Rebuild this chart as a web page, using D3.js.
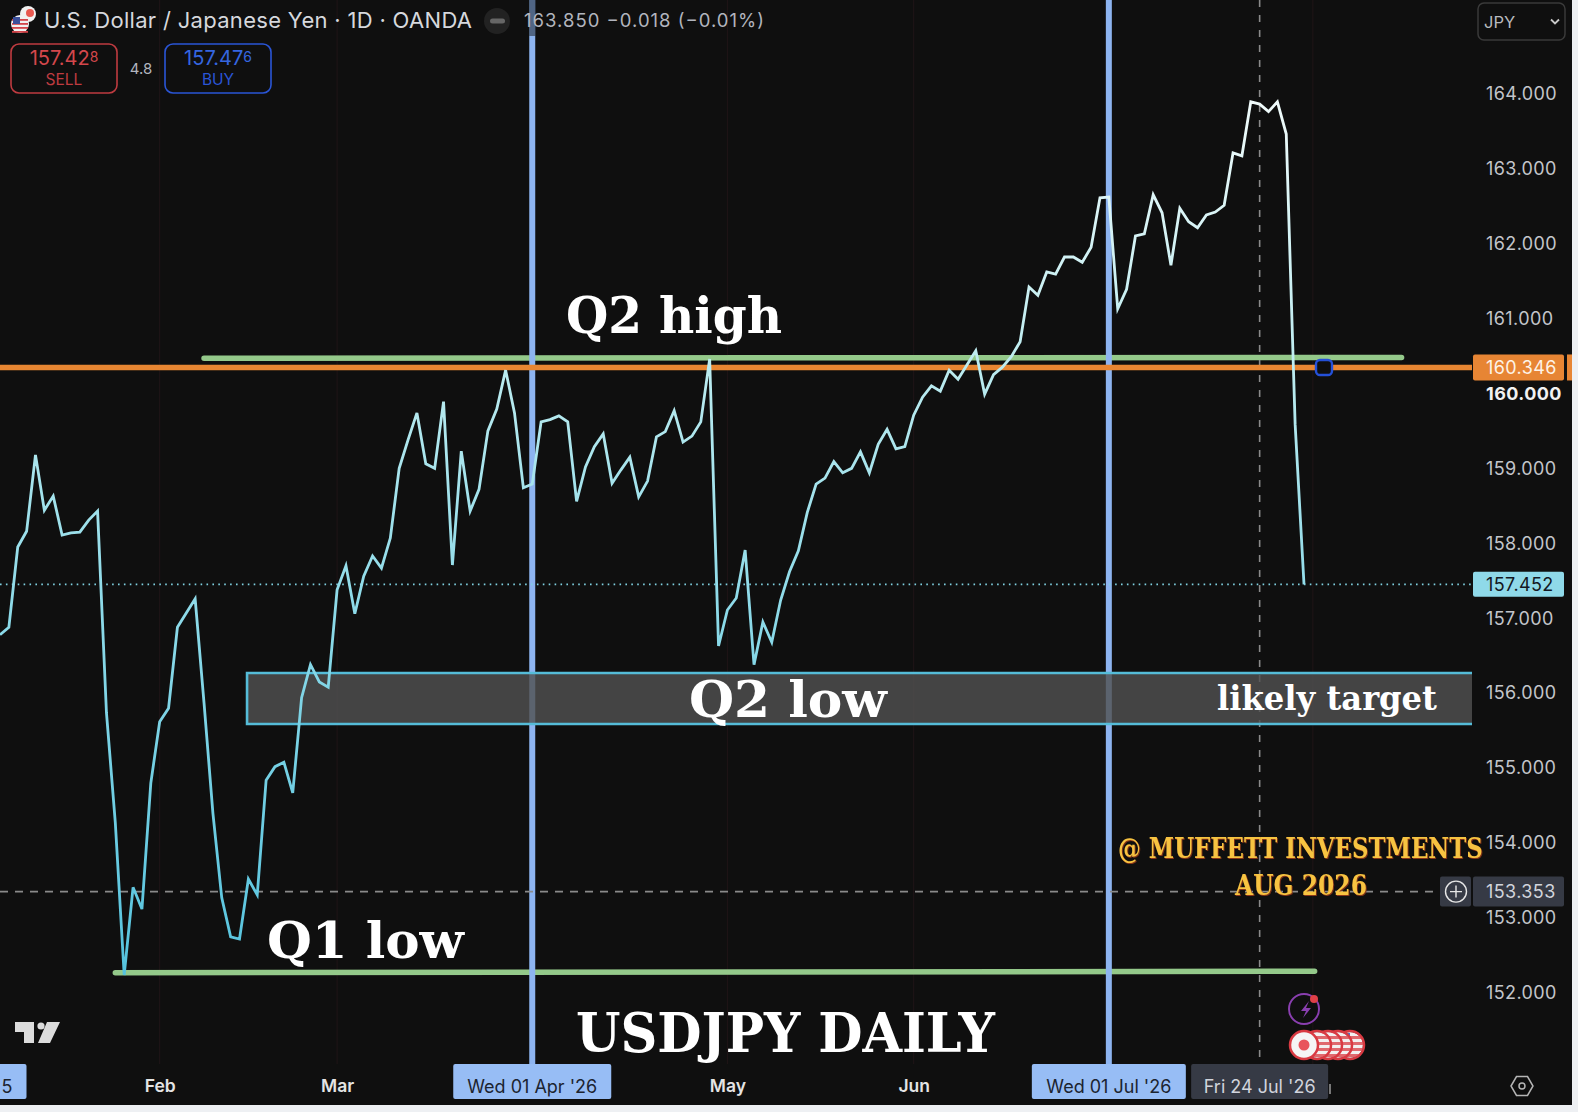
<!DOCTYPE html>
<html><head><meta charset="utf-8">
<script src="https://cdn.jsdelivr.net/npm/d3@7"></script>
<style>
html,body{margin:0;padding:0;background:#eef0f3;overflow:hidden}
svg{display:block}
text{font-family:Inter,"Noto Sans",sans-serif}
.serif{font-family:"DejaVu Serif",serif;font-weight:700}
</style></head><body>
<svg id="c" width="1578" height="1112"></svg>
<script>
// ---- data ----
const closes=[156.78,156.88,157.95,158.16,159.18,158.44,158.63,158.11,158.14,158.15,158.31,158.43,155.74,154.27,152.24,153.41,153.12,154.80,155.62,155.80,
156.88,157.07,157.26,155.87,154.40,153.27,152.75,152.72,153.52,153.31,154.84,155.02,155.08,154.67,155.94,156.38,156.15,156.08,157.38,157.70,
157.06,157.56,157.83,157.67,158.07,159.00,159.38,159.74,159.06,159.00,159.89,157.71,159.23,158.43,158.72,159.50,159.79,160.31,159.74,158.74,
158.79,159.62,159.65,159.70,159.62,158.56,159.02,159.29,159.46,158.80,158.98,159.15,158.62,158.83,159.42,159.49,159.77,159.35,159.43,159.62,
160.46,156.63,157.11,157.27,157.91,156.38,156.95,156.68,157.24,157.62,157.90,158.41,158.79,158.87,159.09,158.94,159.00,159.22,158.94,159.32,
159.52,159.26,159.29,159.71,159.95,160.10,160.03,160.31,160.19,160.38,160.57,159.99,160.25,160.35,160.49,160.69,161.42,161.31,161.62,161.59,
161.82,161.82,161.75,161.95,162.61,162.62,161.13,161.39,162.10,162.13,162.65,162.41,161.71,162.47,162.29,162.21,162.38,162.42,162.51,163.21,
163.17,163.89,163.86,163.76,163.89,163.46,159.59,157.452];
const priceTicks=[152,153,154,155,156,157,158,159,160,161,162,163,164];
const monthBars=[18,38,82,103];
const monthLabels=["Feb","Mar","May","Jun"];
const gridBars=[18,38,60,82,103,125,148];
const quarterBars=[60,125];
const quarterLabels=["Wed 01 Apr '26","Wed 01 Jul '26"];
const crossBar=142, crossLabel="Fri 24 Jul '26";
const crossPrice=153.353, lastPrice=157.452, levelPrice=160.346;
const q2High=[[23,160.47],[158,160.48]];
const q1Low=[[13,152.27],[148.2,152.29]];
const zone={bar0:27.85,bar1:166,top:156.27,bottom:155.59};

// ---- scales ----
const W=1578,H=1112,plotR=1472;
const x=d3.scaleLinear().domain([0,147]).range([0,1304]);
const y=d3.scaleLinear().domain([152,164]).range([993,93.6]);
const svg=d3.select("#c");
const defs=svg.append("defs");
const g=defs.append("linearGradient").attr("id","lg").attr("gradientUnits","userSpaceOnUse")
 .attr("x1",0).attr("x2",0).attr("y1",100).attr("y2",975);
[[0,"#f0fbfb"],[.3,"#bdecf0"],[.57,"#8fdbe9"],[1,"#55c3de"]].forEach(s=>g.append("stop").attr("offset",s[0]).attr("stop-color",s[1]));
defs.append("clipPath").attr("id","frame").append("rect").attr("width",1572).attr("height",1105);

const root=svg.append("g").attr("clip-path","url(#frame)");
root.append("rect").attr("width",W).attr("height",H).attr("fill","#0f0f0f");

// month grid
root.append("g").selectAll("line").data(gridBars).join("line")
 .attr("x1",d=>x(d)).attr("x2",d=>x(d)).attr("y1",0).attr("y2",1064)
 .attr("stroke","#201517").attr("stroke-width",1);

// green levels
const lvl=d3.line().x(d=>x(d[0])).y(d=>y(d[1]));
[q2High,q1Low].forEach(a=>root.append("path").attr("d",lvl(a)).attr("stroke","#94c98a").attr("stroke-width",5.5).attr("stroke-linecap","round").attr("fill","none"));

// quarter lines
root.append("g").selectAll("line").data(quarterBars).join("line")
 .attr("x1",d=>x(d)).attr("x2",d=>x(d)).attr("y1",0).attr("y2",1064)
 .attr("stroke","#8db4f0").attr("stroke-width",6);
root.append("rect").attr("x",x(60)-3).attr("width",6).attr("y",0).attr("height",36).attr("fill","#0f0f0f").attr("opacity",.48);

// crosshair + last price
root.append("line").attr("x1",x(crossBar)).attr("x2",x(crossBar)).attr("y1",0).attr("y2",1064)
 .attr("stroke","#8a8a8a").attr("stroke-width",1.6).attr("stroke-dasharray","7 8");
root.append("line").attr("x1",0).attr("x2",1440).attr("y1",y(crossPrice)).attr("y2",y(crossPrice))
 .attr("stroke","#8a8a8a").attr("stroke-width",1.6).attr("stroke-dasharray","8 7");
root.append("line").attr("x1",0).attr("x2",plotR).attr("y1",y(lastPrice)).attr("y2",y(lastPrice))
 .attr("stroke","#7fd0e0").attr("stroke-width",1.6).attr("stroke-dasharray","1.6 4.3");

// zone
root.append("rect").attr("x",x(zone.bar0)).attr("width",plotR-x(zone.bar0))
 .attr("y",y(zone.top)).attr("height",y(zone.bottom)-y(zone.top)).attr("fill","#505050").attr("opacity",.82);
root.append("path").attr("fill","none").attr("stroke","#55bcd8").attr("stroke-width",2.6)
 .attr("d",`M${plotR},${y(zone.top)}H${x(zone.bar0)}V${y(zone.bottom)}H${plotR}`);

// orange level
root.append("line").attr("x1",0).attr("x2",plotR).attr("y1",y(levelPrice)).attr("y2",y(levelPrice))
 .attr("stroke","#e88632").attr("stroke-width",5.5);

// price line
root.append("path").datum(closes).attr("fill","none").attr("stroke","url(#lg)").attr("stroke-width",2.8)
 .attr("stroke-linejoin","miter").attr("stroke-miterlimit",4)
 .attr("d",d3.line().x((d,i)=>x(i)).y(d=>y(d)));

// handle
root.append("rect").attr("x",1316).attr("y",y(levelPrice)-7.5).attr("width",16).attr("height",15).attr("rx",4)
 .attr("fill","#0f0f0f").attr("stroke","#2450d8").attr("stroke-width",2.4);

// annotations: fitted to a measured width by a horizontal scale, so the text box stays true
function ann(t,xa,xb,base,size,fill){
 const n=root.append("text").attr("class","serif").attr("font-size",size).attr("fill",fill||"#fff").text(t);
 const len=n.node().getComputedTextLength();
 n.attr("transform",`translate(${xa},${base}) scale(${(xb-xa)/len},1)`);
 return n;
}
ann("Q2 high",566,782,333,51);
ann("Q2 low",689,887,717,51);
ann("Q1 low",267,464,958,51);
ann("USDJPY DAILY",576,995,1052,55);
ann("likely target",1217,1437,710,34);
ann("@ MUFFETT INVESTMENTS",1118,1483,858,27,"#f7c341").style("filter","drop-shadow(1.6px 1.6px 0 #8a3618)");
ann("AUG 2026",1235,1367,895,27,"#f7c341").style("filter","drop-shadow(1.6px 1.6px 0 #8a3618)");

// right axis
const ya=root.append("g").attr("transform","translate(1486,0)")
 .call(d3.axisRight(y).tickValues(priceTicks).tickFormat(d3.format(".3f")).tickSize(0).tickPadding(0));
ya.select(".domain").remove();
ya.selectAll("text").style("font-family","Inter,sans-serif").attr("font-size",18).attr("letter-spacing",.4)
 .attr("font-weight",d=>d===160?700:400).attr("fill",d=>d===160?"#f2f2f2":"#c3c5ca");

// price tags
function tag(px,py,w,h,fill,label,col){
 root.append("rect").attr("x",px).attr("y",py).attr("width",w).attr("height",h).attr("rx",2).attr("fill",fill);
 root.append("text").attr("x",1486).attr("y",py+h/2+6.5).attr("font-size",18).attr("letter-spacing",.4).attr("fill",col).text(label);
}
tag(1473,y(levelPrice)-13,91,26,"#e78534",d3.format(".3f")(levelPrice),"#fdf3e8");
root.append("rect").attr("x",1567).attr("y",y(levelPrice)-13).attr("width",5).attr("height",26).attr("fill","#e78534");
tag(1473,y(lastPrice)-12.5,91,25,"#8fd9e9",d3.format(".3f")(lastPrice),"#131722");
tag(1473,y(crossPrice)-15,91,30,"#363a45",d3.format(".3f")(crossPrice),"#d1d4dc");
root.append("rect").attr("x",1440).attr("y",y(crossPrice)-15).attr("width",31).attr("height",30).attr("rx",2).attr("fill","#363a45");
root.append("circle").attr("cx",1456).attr("cy",y(crossPrice)).attr("r",10.5).attr("fill","none").attr("stroke","#e6e6e6").attr("stroke-width",1.4);
root.append("path").attr("d",`M1450,${y(crossPrice)}h12M1456,${y(crossPrice)-6}v12`).attr("stroke","#e6e6e6").attr("stroke-width",1.4);

// bottom axis
const xa=root.append("g").attr("transform","translate(0,1082)")
 .call(d3.axisBottom(x).tickValues(monthBars).tickFormat((d,i)=>monthLabels[i]).tickSize(0).tickPadding(0));
xa.select(".domain").remove();
xa.selectAll("text").style("font-family","Inter,sans-serif").attr("font-size",17.5).attr("font-weight",600).attr("fill","#e4e4e4").attr("dy",".25em").attr("y",6);

function dateTag(cx,w,fill,col,label){
 root.append("rect").attr("x",cx-w/2).attr("y",1064).attr("width",w).attr("height",35).attr("rx",2).attr("fill",fill);
 root.append("text").attr("x",cx).attr("y",1093).attr("text-anchor","middle").attr("font-size",18).attr("fill",col).text(label);
}
const quarterTagW=[158,154];
quarterBars.forEach((b,i)=>dateTag(x(b),quarterTagW[i],"#97bdf5","#1c2430",quarterLabels[i]));
root.append("rect").attr("x",1329).attr("y",1084).attr("width",2).attr("height",10).attr("fill","#777");
dateTag(x(crossBar),137,"#363a45","#d1d4dc",crossLabel);
root.append("rect").attr("x",-4).attr("y",1064).attr("width",30.5).attr("height",35).attr("rx",2).attr("fill","#97bdf5");
root.append("text").attr("x",7).attr("y",1093).attr("text-anchor","middle").attr("font-size",18).attr("fill","#1c2430").text("5");

// header
root.append("text").attr("x",44).attr("y",28).attr("font-size",22).attr("textLength",428).attr("fill","#d6d8dd").text("U.S. Dollar / Japanese Yen · 1D · OANDA");
root.append("circle").attr("cx",497).attr("cy",21).attr("r",13).attr("fill","#222");
root.append("rect").attr("x",490).attr("y",18.5).attr("width",15).attr("height",5).attr("rx",2.5).attr("fill","#666");
root.append("text").attr("x",524).attr("y",27).attr("font-size",18.5).attr("textLength",240).attr("fill","#b2b5be").text("163.850  −0.018 (−0.01%)");
function quote(bx,col,txtCol,txt,sup,lab){
 root.append("rect").attr("x",bx).attr("y",44).attr("width",106).attr("height",49).attr("rx",8).attr("fill","none").attr("stroke",col).attr("stroke-width",1.6);
 const t=root.append("text").attr("x",bx+53).attr("y",65).attr("text-anchor","middle").attr("font-size",20).attr("fill",txtCol).text(txt);
 t.append("tspan").attr("font-size",14).attr("dy",-3).text(sup);
 root.append("text").attr("x",bx+53).attr("y",85).attr("text-anchor","middle").attr("font-size",15.5).attr("fill",col).text(lab);
}
quote(11,"#bf3b40","#d4474c","157.42","8","SELL");
quote(165,"#2a55d6","#3566e0","157.47","6","BUY");
root.append("text").attr("x",141).attr("y",74).attr("text-anchor","middle").attr("font-size",15).attr("fill","#b2b5be").text("4.8");

// flag icon
root.append("circle").attr("cx",28).attr("cy",14).attr("r",8).attr("fill","#f1f1f1");
root.append("circle").attr("cx",30).attr("cy",13).attr("r",4).attr("fill","#e8584f");
root.append("circle").attr("cx",20).attr("cy",24).attr("r",9).attr("fill","#f1f1f1");
[19,23,27,31].forEach(v=>root.append("rect").attr("x",12).attr("y",v).attr("width",16).attr("height",1.8).attr("fill","#d2454a"));
root.append("rect").attr("x",13).attr("y",17).attr("width",7).attr("height",7).attr("fill","#3b4f9a");

// JPY selector
root.append("rect").attr("x",1478).attr("y",3).attr("width",87).attr("height",37).attr("rx",6).attr("fill","none").attr("stroke","#3a3a3a").attr("stroke-width",1.5);
root.append("text").attr("x",1484).attr("y",28).attr("font-size",16.5).attr("fill","#b8babf").text("JPY");
root.append("path").attr("d","M1551,19.5l4,4l4,-4").attr("fill","none").attr("stroke","#c8c8c8").attr("stroke-width",1.8);

// TradingView mark
root.append("path").attr("d","M15,1022H34V1043H24V1032H15ZM47,1022H60L50,1043H38Z").attr("fill","#dcdcdc");
root.append("circle").attr("cx",41).attr("cy",1026).attr("r",3.6).attr("fill","#dcdcdc");

// events
root.append("circle").attr("cx",1304).attr("cy",1009).attr("r",15).attr("fill","#0f0f0f").attr("stroke","#8a3fb0").attr("stroke-width",2);
root.append("path").attr("d","M1309,1001l-8,10h5l-3,7l8,-10h-5z").attr("fill","#8a3fb0");
root.append("circle").attr("cx",1314).attr("cy",999).attr("r",4).attr("fill","#e04048");
[1350,1338,1328,1317].forEach((c,i)=>{
 const id="fl"+i;
 defs.append("clipPath").attr("id",id).append("circle").attr("cx",c).attr("cy",1045).attr("r",13);
 const f=root.append("g").attr("clip-path",`url(#${id})`);
 f.append("rect").attr("x",c-14).attr("y",1031).attr("width",28).attr("height",28).attr("fill","#f3f0f0");
 [1036,1042,1048,1054].forEach(v=>f.append("rect").attr("x",c-14).attr("y",v).attr("width",28).attr("height",3).attr("fill","#e0696e"));
 if(i===0) f.append("rect").attr("x",c-8).attr("y",1033).attr("width",8).attr("height",10).attr("fill","#5570c0");
 root.append("circle").attr("cx",c).attr("cy",1045).attr("r",14).attr("fill","none").attr("stroke","#d93a42").attr("stroke-width",2.5);
});
root.append("circle").attr("cx",1304).attr("cy",1045).attr("r",14).attr("fill","#f5f5f5").attr("stroke","#d93a42").attr("stroke-width",2.5);
root.append("circle").attr("cx",1304).attr("cy",1045).attr("r",5.5).attr("fill","#e8545c");

// settings hexagon
root.append("path").attr("d","M1511,1086l5.5,-9.5h11l5.5,9.5l-5.5,9.5h-11z").attr("fill","none").attr("stroke","#b5b5b5").attr("stroke-width",1.5);
root.append("circle").attr("cx",1522).attr("cy",1086).attr("r",3).attr("fill","none").attr("stroke","#b5b5b5").attr("stroke-width",1.5);
</script>
</body></html>
